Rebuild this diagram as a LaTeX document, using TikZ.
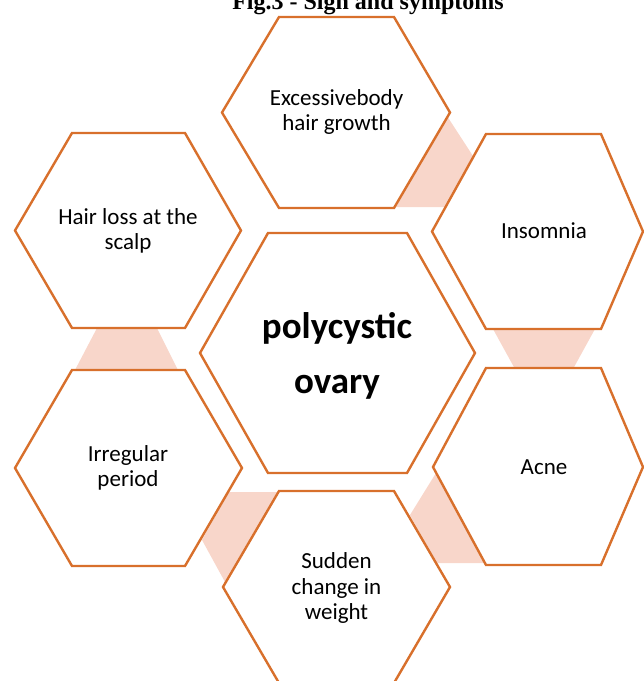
\documentclass[tikz,border=0pt]{standalone}
\usepackage{fontspec}
\setmainfont{Carlito}
\newfontfamily\titlefont{Liberation Serif}
\definecolor{hexline}{RGB}{216,112,44}
\definecolor{linkfill}{RGB}{248,214,202}
\begin{document}
\begin{tikzpicture}[x=1pt,y=-1pt,
  hexagon/.style={draw=hexline, line width=2.4pt, fill=white, line join=miter},
  link/.style={fill=linkfill, draw=none},
  lbl/.style={align=center, font=\fontsize{23}{25.5}\selectfont, text=black, inner sep=0pt},
  core/.style={align=center, font=\fontsize{37}{55}\selectfont\bfseries, text=black, inner sep=0pt}]
\useasboundingbox (0,0) rectangle (644,681);
\begin{scope}
\clip (0,0) rectangle (644,681);
\node[anchor=base, font=\titlefont\bfseries\fontsize{24}{24}\selectfont] (title) at (368,9) {Fig.3 - Sign and symptoms};
% connectors
\fill[link] (447,116) -- (473,156) -- (446,207) -- (396,207) -- cycle;
\fill[link] (493,329) -- (595,329) -- (573,369) -- (515,369) -- cycle;
\fill[link] (436,473) -- (410,515) -- (436,563) -- (484,563) -- cycle;
\fill[link] (229,492) -- (278,492) -- (225,582) -- (202,540) -- cycle;
\fill[link] (97,328) -- (157,328) -- (178,370) -- (75,370) -- cycle;
% hexagons
\draw[hexagon] (222,112.5) -- (279,17) -- (394,17) -- (450,112.5) -- (394,208) -- (279,208) -- cycle;
\draw[hexagon] (432,231.5) -- (486,134) -- (601,134) -- (643,231.5) -- (601,329) -- (486,329) -- cycle;
\draw[hexagon] (15,230.5) -- (72,133) -- (185,133) -- (241,230.5) -- (185,328) -- (72,328) -- cycle;
\draw[hexagon] (200,353) -- (268,233) -- (407,233) -- (475,353) -- (407,473) -- (268,473) -- cycle;
\draw[hexagon] (15,468) -- (72,370) -- (185,370) -- (242,468) -- (185,566) -- (72,566) -- cycle;
\draw[hexagon] (433,467) -- (486,368) -- (601,368) -- (643,467) -- (601,565) -- (486,565) -- cycle;
\draw[hexagon] (223,587) -- (279,491) -- (394,491) -- (450,587) -- (394,683) -- (279,683) -- cycle;
\end{scope}
% texts
\node[lbl] (hair) at (336.5,112) {Excessivebody\\hair growth};
\node[lbl] (insomnia) at (544,231) {Insomnia};
\node[lbl] (scalp) at (128,231) {Hair loss at the\\scalp};
\node[core] (pcos) at (337,356) {polycystic\\ovary};
\node[lbl] (period) at (128,468) {Irregular\\period};
\node[lbl] (acne) at (544,467) {Acne};
\node[lbl] (weight) at (336.5,588) {Sudden\\change in\\weight};
\end{tikzpicture}
\end{document}
